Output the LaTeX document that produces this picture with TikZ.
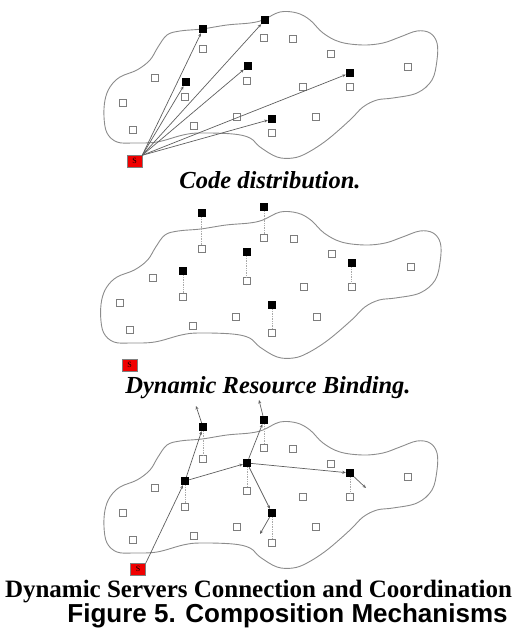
\documentclass[tikz,border=0pt]{standalone}
\usepackage{fontspec}
\setmainfont{Liberation Serif}
\newfontfamily\capsans{Liberation Sans}
\usetikzlibrary{arrows.meta}
\definecolor{cloudgray}{RGB}{140,140,140}
\definecolor{boxgray}{RGB}{125,125,125}
\definecolor{linkgray}{RGB}{95,95,95}
\definecolor{bindgray}{RGB}{170,170,170}
\definecolor{srcred}{RGB}{240,0,0}
\tikzset{
 cloud/.style={draw=cloudgray, line width=0.9pt},
 hollow/.style={draw=boxgray, fill=white, line width=0.8pt, minimum size=7pt, inner sep=0pt},
 server/.style={fill=black, minimum size=8pt, inner sep=0pt},
 source/.style={fill=srcred, draw=gray, line width=0.4pt, minimum width=15pt, minimum height=12pt, inner sep=0pt, font=\fontsize{8}{8}\selectfont},
 link/.style={draw=linkgray, line width=0.7pt, -{Stealth[length=3.5pt,width=3pt]}},
 bind/.style={draw=bindgray, line width=0.7pt, densely dotted},
 captionbi/.style={font=\fontsize{24.5}{26}\selectfont\bfseries\itshape, anchor=base, inner sep=0pt},
}
\newcommand{\drawcloud}{\draw[cloud] plot[smooth cycle, tension=0.6] coordinates {
 (104,117) (105,100) (110,87) (120,77) (137,70) (150,60) (158,47) (167,35) (180,31)
 (202,29) (227,25) (250,23) (263,20) (280,12) (297,13) (310,20) (323,33) (340,42)
 (363,45) (383,43) (400,37) (417,31) (430,33) (437,43) (437,60) (432,80) (417,93)
 (393,98) (377,100) (363,107) (350,120) (327,140) (307,153) (293,158) (277,157)
 (260,147) (250,138) (233,134) (200,133) (183,135) (157,142) (133,143) (117,142) (107,133)};}
\newcommand{\drawhollow}[1]{\foreach \pt [count=\i] in {(203,49),(155,78),(123,103),(133,130),(185,97),(194,126),(237,117),(247,81),(264,38),(293,39),(331,54),(303,87),(316,117),(350,87),(272,133),(408,67)} \node[hollow] (#1\i) at \pt {};}
\begin{document}
\begin{tikzpicture}[x=1pt,y=-1pt]
\useasboundingbox (0,0) rectangle (518,631);
% ---------- panel 1 : code distribution
\drawcloud
\drawhollow{pa}
\node[server] (pa-b1) at (203,29) {};
\node[server] (pa-b2) at (265,20) {};
\node[server] (pa-b3) at (248,66) {};
\node[server] (pa-b4) at (186,82) {};
\node[server] (pa-b5) at (350,73) {};
\node[server] (pa-b6) at (272,119) {};
\node[source] (pa-s) at (134.5,161.5) {\raisebox{2pt}{S}};
\foreach \t in {pa-b1,pa-b2,pa-b3,pa-b4,pa-b5,pa-b6}
  \draw[link] (pa-s.north east) -- (\t);
% ---------- panel 2 : dynamic resource binding
\begin{scope}[shift={(-5.4,200)}, xscale=1.02]
\drawcloud
\drawhollow{pb}
\node[server] (pb-b1) at (203,13) {};
\node[server] (pb-b2) at (264,7) {};
\node[server] (pb-b3) at (185,71) {};
\node[server] (pb-b4) at (247,52) {};
\node[server] (pb-b5) at (350,63) {};
\node[server] (pb-b6) at (272,105) {};
\end{scope}
\draw[bind] (pb-b1) -- (pb1);
\draw[bind] (pb-b2) -- (pb9);
\draw[bind] (pb-b3) -- (pb5);
\draw[bind] (pb-b4) -- (pb8);
\draw[bind] (pb-b5) -- (pb14);
\draw[bind] (pb-b6) -- (pb15);
\node[source] (pb-s) at (129.5,365.5) {\raisebox{2pt}{S}};
% ---------- panel 3 : dynamic servers connection
\begin{scope}[shift={(0,410)}]
\drawcloud
\drawhollow{pc}
\node[server] (pc-A) at (203,17) {};
\node[server] (pc-B) at (264,10) {};
\node[server] (pc-C) at (247,53) {};
\node[server] (pc-D) at (185,71) {};
\node[server] (pc-E) at (350,63) {};
\node[server] (pc-F) at (272,103) {};
\coordinate (pc-a1) at (196,-4);
\coordinate (pc-b1) at (259,-10);
\coordinate (pc-e1) at (366,78);
\coordinate (pc-f1) at (260,124);
\end{scope}
\draw[bind] (pc-A) -- (pc1);
\draw[bind] (pc-B) -- (pc9);
\draw[bind] (pc-C) -- (pc8);
\draw[bind] (pc-D) -- (pc5);
\draw[bind] (pc-E) -- (pc14);
\draw[bind] (pc-F) -- (pc15);
\node[source] (pc-s) at (138,569.5) {\raisebox{2pt}{S}};
\draw[link] (pc-s.north east) -- (pc-D);
\draw[link] (pc-D) -- (pc-A);
\draw[link] (pc-A) -- (pc-a1);
\draw[link] (pc-D) -- (pc-C);
\draw[link] (pc-C) -- (pc-B);
\draw[link] (pc-B) -- (pc-b1);
\draw[link] (pc-C) -- (pc-E);
\draw[link] (pc-E) -- (pc-e1);
\draw[link] (pc-C) -- (pc-F);
\draw[link] (pc-F) -- (pc-f1);
% ---------- captions
\node[captionbi] (cap1) at (270,189) {Code distribution.};
\node[captionbi] (cap2) at (268,393) {Dynamic Resource Binding.};
\node[font=\fontsize{25}{27}\selectfont\bfseries, anchor=base, inner sep=0pt] (cap3) at (258.5,597) {Dynamic Servers Connection and Coordination};
\node[font=\capsans\fontsize{26}{28}\selectfont\bfseries, anchor=base, inner sep=0pt] (cap4) at (287.5,622) {Figure 5. Composition Mechanisms};
\end{tikzpicture}
\end{document}
